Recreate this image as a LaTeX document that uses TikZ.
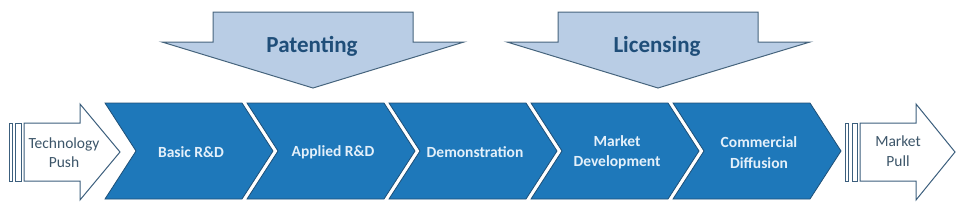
\documentclass[tikz,border=0pt]{standalone}
\usepackage{fontspec}
\setmainfont{Carlito}
\definecolor{chevfill}{RGB}{30,120,186}
\definecolor{chevline}{RGB}{30,80,120}
\definecolor{chevtext}{RGB}{228,240,250}
\definecolor{downfill}{RGB}{185,205,229}
\definecolor{downline}{RGB}{70,100,125}
\definecolor{downtext}{RGB}{31,78,121}
\definecolor{pushline}{RGB}{60,95,125}
\definecolor{pushtext}{RGB}{60,85,105}
\tikzset{
  chevbox/.style={fill=chevfill, draw=chevline, line width=0.8pt, line join=miter},
  chevlabel/.style={text=chevtext, font=\fontsize{15.5}{20.5}\selectfont\bfseries, align=center, inner sep=0pt},
  downbox/.style={fill=downfill, draw=downline, line width=1pt},
  downlabel/.style={text=downtext, font=\fontsize{23}{26}\selectfont\bfseries, inner sep=0pt},
  pushbox/.style={fill=white, draw=pushline, line width=1pt},
  pushlabel/.style={text=pushtext, font=\fontsize{15.5}{19.5}\selectfont, align=center, inner sep=0pt}
}
\begin{document}
\begin{tikzpicture}[x=1pt,y=-1pt]
\useasboundingbox (0,0) rectangle (960,204);
% down arrows
\draw[downbox] (213,12) -- (413,12) -- (413,42) -- (464,42) -- (313,88) -- (162,42) -- (213,42) -- cycle;
\node[downlabel] (patenting) at (312,46) {Patenting};
\draw[downbox] (558,12) -- (758,12) -- (758,42) -- (810,42) -- (658,88) -- (507,42) -- (558,42) -- cycle;
\node[downlabel] (licensing) at (657,46) {Licensing};
% technology push
\draw[pushbox] (9,123) rectangle (12,181);
\draw[pushbox] (15.5,123) rectangle (21,181);
\draw[pushbox] (24,123) -- (80,123) -- (80,104) -- (120,152) -- (80,200) -- (80,181) -- (24,181) -- cycle;
\node[pushlabel] (push) at (64,152.5) {Technology\\Push};
% market pull
\draw[pushbox] (845,123) rectangle (848.5,181);
\draw[pushbox] (852,123) rectangle (857,181);
\draw[pushbox] (860,123) -- (916,123) -- (916,104) -- (955,152) -- (916,200) -- (916,181) -- (860,181) -- cycle;
\node[pushlabel] (pull) at (898,151) {Market\\Pull};
% chevrons
\foreach \i/\name/\txt in {0/basic/{Basic R\&D},1/applied/{Applied R\&D},2/demo/{Demonstration},3/market/{Market\\Development},4/commercial/{Commercial\\Diffusion}}{
  \pgfmathsetmacro{\L}{105+142*\i}
  \draw[chevbox] (\L,103) -- ({\L+137},103) -- ({\L+168},151) -- ({\L+137},199) -- (\L,199) -- ({\L+31},151) -- cycle;
  \node[chevlabel] (\name) at ({\L+86},152.5) {\txt};
}
\end{tikzpicture}
\end{document}
